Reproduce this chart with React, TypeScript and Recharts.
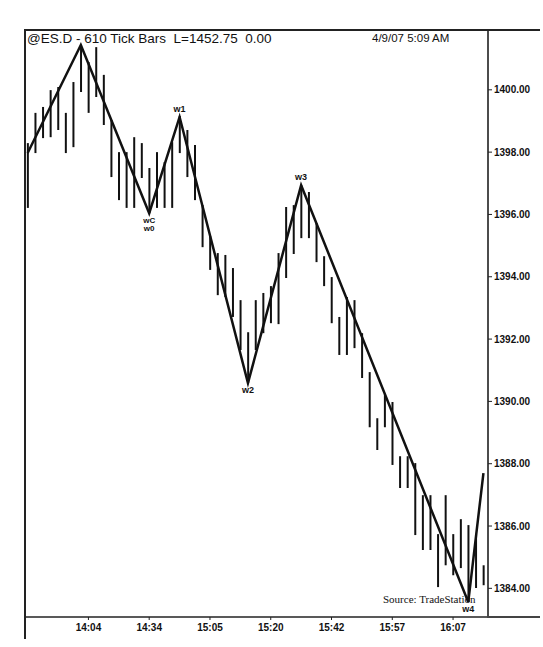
import { ComposedChart, Bar, Line, XAxis, YAxis, LabelList } from 'recharts';

// high / low of each 610-tick bar
const barHigh = [
  1398.29, 1399.26, 1399.45, 1399.99, 1400.09, 1399.26, 1400.25, 1401.44, 1400.89, 1401.37,
  1400.48, 1399.03, 1398.0, 1398.0, 1398.48, 1398.29, 1397.49, 1398.0, 1397.68, 1398.32,
  1399.16, 1398.71, 1398.23, 1396.3, 1395.31, 1394.76, 1394.7, 1394.28, 1393.25, 1392.22,
  1393.25, 1393.48, 1393.7, 1394.76, 1396.24, 1396.3, 1396.94, 1396.72, 1395.72, 1394.66,
  1393.99, 1392.71, 1393.35, 1393.25, 1392.19, 1390.94, 1389.46, 1390.23, 1389.98, 1388.24,
  1388.24, 1388.02, 1386.99, 1386.99, 1385.74, 1386.99, 1385.74, 1386.22, 1386.03, 1385.74,
  1384.74,
];
const barLow = [
  1396.21, 1397.97, 1398.45, 1398.48, 1398.71, 1397.97, 1398.16, 1399.93, 1399.26, 1399.77,
  1398.87, 1397.2, 1396.46, 1396.21, 1396.21, 1397.17, 1396.04, 1396.21, 1396.21, 1396.21,
  1397.97, 1397.2, 1396.46, 1394.95, 1394.22, 1393.41, 1393.35, 1392.71, 1391.65, 1390.59,
  1391.65, 1392.19, 1392.51, 1392.48, 1393.96, 1394.73, 1395.24, 1395.24, 1394.47, 1393.7,
  1392.51, 1391.49, 1391.49, 1391.71, 1390.75, 1389.17, 1388.44, 1389.17, 1387.96, 1387.22,
  1387.22, 1385.71, 1385.23, 1385.23, 1384.04, 1384.74, 1384.42, 1384.65, 1383.56, 1384.01,
  1384.1,
];

// wave pivots
const waveIdx = [0, 7, 16, 20, 29, 36, 58, 60];
const waveValue = [1397.97, 1401.44, 1396.04, 1399.13, 1390.59, 1396.94, 1383.56, 1387.7];
const waveName = ['', '', 'wC/w0', 'w1', 'w2', 'w3', 'w4', ''];
const wavePos = ['', '', 'below', 'above', 'below', 'above', 'below', ''];

const tickIdx = [8, 16, 24, 32, 40, 48, 56];
const tickLabels = ['14:04', '14:34', '15:05', '15:20', '15:42', '15:57', '16:07'];
const priceTicks = [1384, 1386, 1388, 1390, 1392, 1394, 1396, 1398, 1400];

const data = barHigh.map((h, i) => {
  const w = waveIdx.indexOf(i);
  return {
    i,
    range: [barLow[i], h],
    wave: w >= 0 ? waveValue[w] : null,
    name: w >= 0 ? waveName[w] : '',
    pos: w >= 0 ? wavePos[w] : '',
  };
});

const font = '"Liberation Sans", Arial, sans-serif';

const TickBar = (props: any) => {
  const { x, y, width, height } = props;
  const cx = x + width / 2;
  return <line x1={cx} x2={cx} y1={y} y2={y + height} stroke="#111" strokeWidth={2} />;
};

const WaveLabel = (props: any) => {
  const { x, y, value, index } = props;
  if (!value) return null;
  const below = data[index].pos === 'below';
  const parts = String(value).split('/');
  return (
    <g>
      {parts.map((p, k) => (
        <text
          key={k}
          x={x}
          y={below ? y + 10 + k * 8 : y - 5}
          textAnchor="middle"
          fontFamily={font}
          fontWeight="bold"
          fontSize={parts.length > 1 ? 8 : 9}
          fill="#111"
        >
          {p}
        </text>
      ))}
    </g>
  );
};

export default function App() {
  return (
    <div style={{ position: 'relative', width: 543, height: 647, background: '#fff' }}>
      <style>{'body{margin:0}'}</style>
      <ComposedChart
        width={543}
        height={647}
        data={data}
        margin={{ top: 30, right: 0, bottom: 0, left: 25 }}
      >
        <XAxis
          dataKey="i"
          type="number"
          domain={[-0.35, 60.6]}
          ticks={tickIdx}
          tickFormatter={(v: number) => tickLabels[tickIdx.indexOf(v)] ?? ''}
          height={30}
          tickSize={3}
          axisLine={{ stroke: '#222', strokeWidth: 1.5 }}
          tickLine={{ stroke: '#222' }}
          tick={{ fontFamily: font, fontWeight: 'bold', fontSize: 10, fill: '#111', dy: 2 }}
          allowDataOverflow
        />
        <YAxis
          orientation="right"
          type="number"
          domain={[1383.08, 1401.92]}
          ticks={priceTicks}
          tickFormatter={(v: number) => v.toFixed(2)}
          width={55}
          tickSize={4}
          axisLine={{ stroke: '#111', strokeWidth: 1.5 }}
          tickLine={{ stroke: '#222' }}
          tick={{ fontFamily: font, fontWeight: 'bold', fontSize: 10, fill: '#111', textAnchor: 'start' }}
          allowDataOverflow
        />
        <Bar dataKey="range" barSize={2} shape={TickBar} isAnimationActive={false} />
        <Line
          dataKey="wave"
          connectNulls
          stroke="#111"
          strokeWidth={2.5}
          dot={false}
          activeDot={false}
          isAnimationActive={false}
        >
          <LabelList dataKey="name" content={WaveLabel} />
        </Line>
      </ComposedChart>

      {/* frame pieces that run past the plot */}
      <div style={{ position: 'absolute', left: 25, top: 29, width: 515, height: 1.5, background: '#222' }} />
      <div style={{ position: 'absolute', left: 487, top: 616, width: 53, height: 1.5, background: '#444' }} />
      <div style={{ position: 'absolute', left: 24, top: 29, width: 1.5, height: 610, background: '#222' }} />

      <div
        style={{
          position: 'absolute',
          left: 27,
          top: 31,
          fontFamily: font,
          fontSize: 13.5,
          color: '#111',
          whiteSpace: 'pre',
        }}
      >
        {'@ES.D - 610 Tick Bars  L=1452.75  0.00'}
      </div>
      <div
        style={{
          position: 'absolute',
          left: 372,
          top: 32,
          fontFamily: font,
          fontSize: 11.5,
          color: '#111',
          whiteSpace: 'pre',
        }}
      >
        {'4/9/07 5:09 AM'}
      </div>
      <div
        style={{
          position: 'absolute',
          left: 383,
          top: 593,
          fontFamily: '"Liberation Serif", "Times New Roman", serif',
          fontSize: 11,
          color: '#111',
          whiteSpace: 'pre',
        }}
      >
        {'Source: TradeStation'}
      </div>
    </div>
  );
}
